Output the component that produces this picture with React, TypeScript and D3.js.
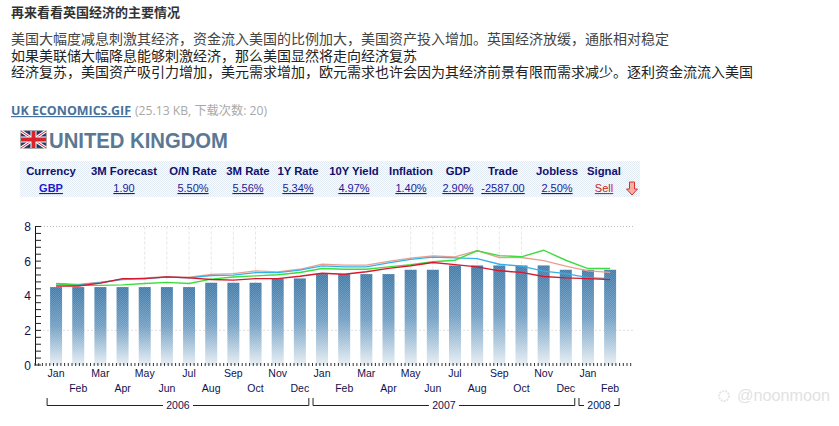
import React from 'react';
import * as d3 from 'd3';

const months = ['Jan','Feb','Mar','Apr','May','Jun','Jul','Aug','Sep','Oct','Nov','Dec','Jan','Feb','Mar','Apr','May','Jun','Jul','Aug','Sep','Oct','Nov','Dec','Jan','Feb'];
const policyRate = [4.5,4.5,4.5,4.5,4.5,4.5,4.5,4.75,4.75,4.75,5,5,5.25,5.25,5.25,5.25,5.5,5.5,5.75,5.75,5.75,5.75,5.75,5.5,5.5,5.5];
const redLine = [4.56,4.56,4.73,4.99,4.99,5.09,5.03,4.94,4.9,4.99,4.99,5.13,5.3,5.24,5.39,5.58,5.73,5.92,5.8,5.67,5.44,5.35,5.11,5.03,4.99,4.94];
const greenLine = [4.69,4.61,4.6,4.63,4.71,4.77,4.71,4.96,5.08,5.15,5.21,5.34,5.57,5.53,5.53,5.67,5.8,5.96,6.05,6.6,6.32,6.25,6.63,6.05,5.57,5.57];
const blueLine = [4.69,4.63,4.75,4.94,4.99,5.08,5.03,5.17,5.19,5.34,5.34,5.48,5.73,5.67,5.67,5.9,6.1,6.23,6.19,6.15,5.82,5.71,5.42,5.28,5.05,4.99];
const pinkLine = [4.71,4.65,4.78,4.95,5.03,5.11,5.07,5.23,5.28,5.44,5.38,5.53,5.82,5.77,5.77,5.98,6.17,6.3,6.25,6.6,6.21,6.21,6.03,5.71,5.44,5.35];
const yTicks = [0,2,4,6,8];
const minorTicks = d3.range(0, 8.01, 0.4);
const years = [
  { label: '2006', from: 0, to: 11 },
  { label: '2007', from: 12, to: 23 },
  { label: '2008', from: 24, to: 25 },
];
const gridMonths = [4,5,6,7,8,9,16,17,18,19,20,21];

const tableCols = ['Currency','3M Forecast','O/N Rate','3M Rate','1Y Rate','10Y Yield','Inflation','GDP','Trade','Jobless','Signal'];
const tableVals = ['GBP','1.90','5.50%','5.56%','5.34%','4.97%','1.40%','2.90%','-2587.00','2.50%','Sell'];
const tableX = [51,124,193,248,298,354,411,458,503,557,604];

const paragraphs = [
  { text: '美国大幅度减息刺激其经济，资金流入美国的比例加大，美国资产投入增加。英国经济放缓，通胀相对稳定', y: 44, fill: '#444' },
  { text: '如果美联储大幅降息能够刺激经济，那么美国显然将走向经济复苏', y: 61, fill: '#222' },
  { text: '经济复苏，美国资产吸引力增加，美元需求增加，欧元需求也许会因为其经济前景有限而需求减少。逐利资金流流入美国', y: 77, fill: '#222' },
];

const cjk = '"Noto Sans CJK SC", sans-serif';
const sans = '"Liberation Sans", Arial, sans-serif';
const humanist = '"Open Sans", "Noto Sans CJK SC", sans-serif';

export default function App() {
  const x = d3.scaleBand<number>().domain(d3.range(26)).range([45, 621.2]).paddingInner(0.46).paddingOuter(0.23);
  const y = d3.scaleLinear().domain([0, 8]).range([365, 226.5]);
  const cx = (i: number) => x(i)! + x.bandwidth() / 2;
  const line = d3.line<number>().x((_, i) => cx(i)).y(d => y(d));

  return (
    <svg width={839} height={426} style={{ position: 'absolute', left: 0, top: 0, background: '#fff' }}>
      <defs>
        <linearGradient id="barFill" x1="0" y1="0" x2="0" y2="1">
          <stop offset="0" stopColor="#3f7bab" />
          <stop offset="0.5" stopColor="#6f9fc6" />
          <stop offset="0.75" stopColor="#a9c6dd" />
          <stop offset="1" stopColor="#e6eef4" />
        </linearGradient>
        <pattern id="dither" width="2" height="2" patternUnits="userSpaceOnUse">
          <rect width="1" height="1" fill="#fff" opacity="0.14" />
          <rect x="1" y="1" width="1" height="1" fill="#fff" opacity="0.14" />
        </pattern>
        <pattern id="tableDots" width="2" height="2" patternUnits="userSpaceOnUse">
          <rect width="2" height="2" fill="#fbfcfe" />
          <rect width="1" height="1" fill="#e2ebf4" />
          <rect x="1" y="1" width="1" height="1" fill="#e2ebf4" />
        </pattern>
      </defs>

      <text x={11} y={17} fontFamily={cjk} fontSize={13} fontWeight={700} fill="#333">再来看看英国经济的主要情况</text>
      {paragraphs.map(p => (
        <text key={p.y} x={11} y={p.y} fontFamily={cjk} fontSize={14} fill={p.fill}>{p.text}</text>
      ))}
      <text x={11} y={115} fontFamily={humanist} fontSize={12} fontWeight={700} fill="#47719a" textDecoration="underline" textLength={120} lengthAdjust="spacingAndGlyphs">UK ECONOMICS.GIF</text>
      <text x={135} y={115} fontFamily={humanist} fontSize={12} fill="#a8a8a8" textLength={132} lengthAdjust="spacingAndGlyphs">(25.13 KB, 下载次数: 20)</text>

      {/* flag */}
      <g>
        <rect x={21} y={131} width={25} height={17} fill="#27306a" stroke="#555" />
        <path d="M21 131L46 148M46 131L21 148" stroke="#fff" strokeWidth={3} />
        <path d="M21 131L46 148M46 131L21 148" stroke="#d8232a" strokeWidth={1} />
        <path d="M33.5 131V148M21 139.5H46" stroke="#fff" strokeWidth={6} />
        <path d="M33.5 131V148M21 139.5H46" stroke="#d8232a" strokeWidth={4} />
      </g>
      <text x={49} y={148} fontFamily={sans} fontSize={21.5} fontWeight={700} fill="#5b7893" textLength={179} lengthAdjust="spacingAndGlyphs">UNITED KINGDOM</text>

      {/* table */}
      <rect x={20} y={161} width={620} height={36} fill="url(#tableDots)" />
      {tableCols.map((c, i) => (
        <text key={c} x={tableX[i]} y={175} textAnchor="middle" fontFamily={sans} fontSize={11.3} fontWeight={700} fill="#10106e">{c}</text>
      ))}
      {tableVals.map((v, i) => (
        <text key={i} x={tableX[i]} y={192} textAnchor="middle" fontFamily={sans} fontSize={11} fontWeight={i === 0 ? 700 : 400}
          fill={v === 'Sell' ? '#d02020' : i === 0 ? '#1a1ad0' : '#1a1a9a'} textDecoration="underline">{v}</text>
      ))}
      <path d="M629.5 182h5v7h3l-5.5 6-5.5-6h3z" fill="#f8b0a0" stroke="#d83030" />

      {/* grid */}
      <line x1={35} x2={633} y1={y(8)} y2={y(8)} stroke="#bbb" strokeDasharray="1 2" />
      <line x1={35} x2={633} y1={y(2)} y2={y(2)} stroke="#e8dcdc" strokeDasharray="2 2" />
      {gridMonths.map(i => (
        <line key={i} x1={cx(i)} x2={cx(i)} y1={y(8)} y2={y(0)} stroke="#e6e6e6" strokeDasharray="3 2" />
      ))}

      {/* bars */}
      {policyRate.map((v, i) => (
        <g key={i}>
          <rect x={x(i)} y={y(v)} width={x.bandwidth()} height={y(0) - y(v)} fill="url(#barFill)" />
          <rect x={x(i)} y={y(v)} width={x.bandwidth()} height={y(0) - y(v)} fill="url(#dither)" />
        </g>
      ))}

      {/* lines */}
      <path d={line(pinkLine)!} fill="none" stroke="#e8a090" strokeWidth={1.3} />
      <path d={line(blueLine)!} fill="none" stroke="#35b0e8" strokeWidth={1.3} />
      <path d={line(greenLine)!} fill="none" stroke="#3fdc3f" strokeWidth={1.4} />
      <path d={line(redLine)!} fill="none" stroke="#d8182c" strokeWidth={1.4} />

      {/* y axis */}
      <line x1={35.5} x2={35.5} y1={y(8)} y2={y(0)} stroke="#111" />
      {minorTicks.map(t => (
        <line key={t} x1={35} x2={41} y1={y(t)} y2={y(t)} stroke="#222" />
      ))}
      {yTicks.map(t => (
        <text key={t} x={31} y={y(t) + 4.5} textAnchor="end" fontFamily={sans} fontSize={12} fill="#111150">{t}</text>
      ))}

      {/* x axis dots */}
      {d3.range(35, 634, 3.7).map(v => (
        <line key={v} x1={v} x2={v} y1={363} y2={366} stroke="#333" />
      ))}
      {months.map((m, i) => (
        <text key={i} x={cx(i)} y={i % 2 === 0 ? 377 : 392} textAnchor="middle" fontFamily={sans} fontSize={10.5} fill="#111150">{m}</text>
      ))}

      {/* year brackets */}
      {years.map(yr => {
        const x0 = x(yr.from)! - 3;
        const x1 = x(yr.to)! + x.bandwidth() + 3;
        const mid = (x0 + x1) / 2;
        const halfGap = 15;
        return (
          <g key={yr.label}>
            <path d={`M${x0} 398V405.5H${mid - halfGap}M${mid + halfGap} 405.5H${x1}V398`} fill="none" stroke="#222" />
            <text x={mid} y={409} textAnchor="middle" fontFamily={sans} fontSize={10.5} fill="#111150">{yr.label}</text>
          </g>
        );
      })}

      {/* watermark */}
      <circle cx={724} cy={396} r={5} fill="none" stroke="#e6e6e6" strokeWidth={2} strokeDasharray="2 1" />
      <text x={737} y={401} fontFamily={sans} fontSize={16} fill="#e2e2e2" textLength={93} lengthAdjust="spacingAndGlyphs">@noonmoon</text>
    </svg>
  );
}
